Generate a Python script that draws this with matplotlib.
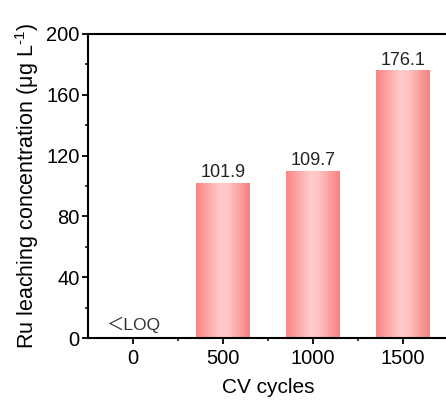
import matplotlib
matplotlib.use("Agg")
import matplotlib.pyplot as plt
import numpy as np
from matplotlib.colors import LinearSegmentedColormap
from matplotlib.ticker import MultipleLocator

plt.rcParams["font.family"] = ["Liberation Sans", "DejaVu Sans"]
plt.rcParams["mathtext.default"] = "regular"

cycles = ["0", "500", "1000", "1500"]
ru_conc = [0.0, 101.9, 109.7, 176.1]
value_labels = ["\uFF1CLOQ", "101.9", "109.7", "176.1"]

fig = plt.figure(figsize=(4.46, 4.08), dpi=100)
ax = fig.add_axes([88 / 446, 70 / 408, 360 / 446, 304 / 408])

x = np.arange(len(cycles))
bars = ax.bar(x, ru_conc, width=0.6, color="none", edgecolor="none", zorder=2)

grad = LinearSegmentedColormap.from_list(
    "bar", [(0.0, "#f98585"), (0.45, "#ffcbcb"), (0.6, "#ffc4c4"), (1.0, "#f98080")]
)
shade = np.linspace(0, 1, 256).reshape(1, -1)
for bar in bars:
    h = bar.get_height()
    if h <= 0:
        continue
    x0 = bar.get_x()
    w = bar.get_width()
    im = ax.imshow(shade, cmap=grad, aspect="auto", extent=[x0, x0 + w, 0, h],
                   origin="lower", zorder=2, interpolation="bilinear")
    im.set_clip_path(bar)

for xi, v, lab in zip(x, ru_conc, value_labels):
    if v > 0:
        ax.text(xi, v + 1.2, lab, ha="center", va="bottom", fontsize=13, color="#222222")
    else:
        ax.text(xi, 3, lab, ha="center", va="bottom", fontsize=12.5, color="#333333",
                family=["Liberation Sans", "Noto Sans CJK SC", "DejaVu Sans"])

ax.set_xlim(-0.5, 3.5)
ax.set_ylim(0, 200)
ax.set_xticks(x)
ax.set_xticklabels(cycles)
ax.set_xticks(x[:-1] + 0.5, minor=True)
ax.yaxis.set_major_locator(MultipleLocator(40))
ax.yaxis.set_minor_locator(MultipleLocator(20))

ax.tick_params(which="major", direction="out", length=4, width=1.3, labelsize=14.5, pad=2)
ax.tick_params(which="minor", direction="out", length=2.5, width=1.1)
ax.tick_params(axis="x", pad=4)
for sp in ax.spines.values():
    sp.set_linewidth(1.5)
ax.spines["right"].set_visible(False)

ax.set_xlabel("CV cycles", fontsize=15, labelpad=7)
ax.set_ylabel("Ru leaching concentration (\u03bcg L$^{\u2010 1}$)", fontsize=15.5, labelpad=4)

fig.savefig("out.png", dpi=100)
